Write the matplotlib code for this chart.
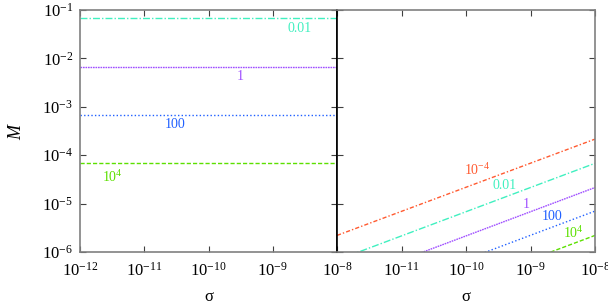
import matplotlib
matplotlib.use("Agg")
import matplotlib.pyplot as plt
from matplotlib.ticker import LogLocator, NullLocator, LogFormatterSciNotation, FuncFormatter

plt.rcParams['font.family'] = 'serif'
plt.rcParams['font.serif'] = ['Liberation Serif', 'DejaVu Serif']
plt.rcParams['mathtext.fontset'] = 'custom'
plt.rcParams['mathtext.rm'] = 'Liberation Serif'
plt.rcParams['mathtext.it'] = 'Liberation Serif:italic'
plt.rcParams['mathtext.bf'] = 'Liberation Serif:bold'
plt.rcParams['axes.unicode_minus'] = False

# ---- data ----
params = ["0.01", "1", "100", "10^4"]
left_sigma = [1e-12, 1e-8]
left_M = {"0.01": [0.068, 0.068], "1": [0.0068, 0.0068],
          "100": [6.7e-4, 6.7e-4], "10^4": [6.8e-5, 6.8e-5]}

right_params = ["10^-4", "0.01", "1", "100", "10^4"]
right_sigma = [1e-12, 1e-8]
right_M = {"10^-4": [2.2e-6, 2.15e-4], "0.01": [6.8e-7, 6.8e-5],
           "1": [2.15e-7, 2.15e-5], "100": [7.0e-8, 7.0e-6],
           "10^4": [2.2e-8, 2.2e-6]}

xlim = [1e-12, 1e-8]
ylim = [1e-6, 1e-1]

# ---- styles ----
colors = {"10^-4": "#ff5a30", "0.01": "#40f0c0", "1": "#a050ff",
          "100": "#2060ff", "10^4": "#5ce000"}
dashes = {"10^-4": (3, 1.5, 1, 1.5), "0.01": (5, 1.5, 1, 1.5),
          "1": (1.2, 0.6), "100": (1, 1.6), "10^4": (3, 1.5)}
tex = {"10^-4": r"$10^{-4}$", "0.01": "0.01", "1": "1", "100": "100",
       "10^4": r"$10^{4}$"}
left_label_pos = {"0.01": (2.6e-9, 0.041), "1": (3.1e-10, 4.2e-3),
                  "100": (3.0e-11, 4.4e-4), "10^4": (3.2e-12, 3.5e-5)}
right_label_pos = {"10^-4": (1.5e-10, 4.9e-5), "0.01": (4.0e-10, 2.4e-5),
                   "1": (8.5e-10, 9.8e-6), "100": (2.2e-9, 5.3e-6),
                   "10^4": (4.6e-9, 2.5e-6)}

fig = plt.figure(figsize=(6.08, 3.06), dpi=100)
axL = fig.add_axes([80/608, 1-252/306, 257/608, 242/306])
axR = fig.add_axes([337/608, 1-252/306, 258/608, 242/306])

gray = "#808080"
for ax in (axL, axR):
    ax.set_xscale('log')
    ax.set_yscale('log')
    ax.set_xlim(xlim)
    ax.set_ylim(ylim)
    ax.xaxis.set_major_locator(LogLocator(base=10, numticks=10))
    ax.yaxis.set_major_locator(LogLocator(base=10, numticks=10))
    ax.xaxis.set_minor_locator(NullLocator())
    ax.yaxis.set_minor_locator(NullLocator())
    ax.tick_params(which='major', direction='in', length=4, width=0.8,
                   color="#404040", top=True, right=True, labelsize=12,
                   pad=5)
    ax.tick_params(axis='x', pad=7)
    for s in ax.spines.values():
        s.set_color(gray)
        s.set_linewidth(1.2)
    ax.set_xlabel("σ", fontsize=12, labelpad=7)

axL.spines['right'].set_color('black')
axR.spines['left'].set_color('black')
axR.tick_params(labelleft=False)

_base_fmt = LogFormatterSciNotation()
def right_fmt(v, pos):
    if v <= xlim[0] * 1.001:
        return ""
    return _base_fmt(v, pos)
axR.xaxis.set_major_formatter(FuncFormatter(right_fmt))

for p in params:
    axL.plot(left_sigma, left_M[p], color=colors[p], lw=1.0,
             dashes=dashes[p])
    x, y = left_label_pos[p]
    axL.text(x, y, tex[p], color=colors[p], fontsize=10,
             ha='center', va='center')

for p in right_params:
    axR.plot(right_sigma, right_M[p], color=colors[p], lw=1.0,
             dashes=dashes[p])
    x, y = right_label_pos[p]
    axR.text(x, y, tex[p], color=colors[p], fontsize=10,
             ha='center', va='center')

axL.set_ylabel("$M$", fontsize=13, labelpad=12)

fig.savefig("out.png", dpi=100)
